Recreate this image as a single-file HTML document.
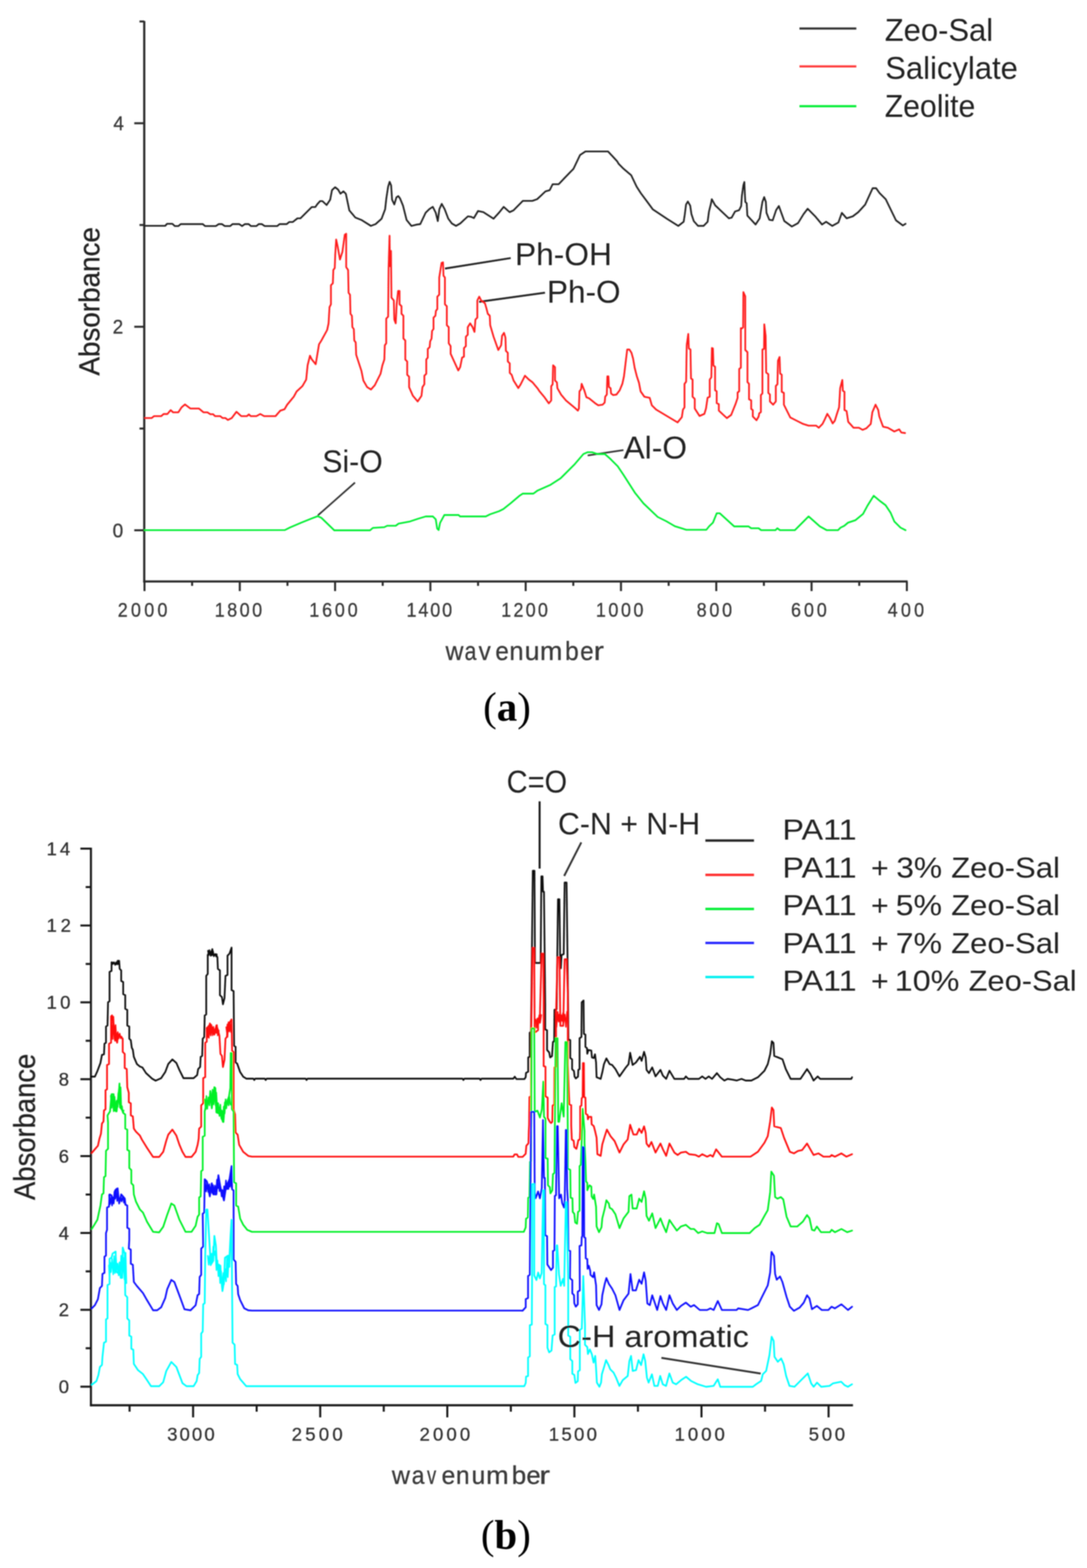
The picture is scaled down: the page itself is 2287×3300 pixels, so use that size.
<!DOCTYPE html>
<html><head><meta charset="utf-8"><title>FTIR spectra</title>
<style>html,body{margin:0;padding:0;background:#fff;}body{width:2287px;height:3300px;overflow:hidden;}svg{display:block;}</style>
</head><body>
<svg width="2287" height="3300" viewBox="0 0 2287 3300">
<defs><filter id="soft" x="0" y="0" width="2287" height="3300" filterUnits="userSpaceOnUse"><feGaussianBlur stdDeviation="1.00"/></filter></defs>
<rect width="2287" height="3300" fill="#fff"/>
<g filter="url(#soft)">
<line x1="303.5" y1="44.2" x2="303.5" y2="1225.7" stroke="#2b2b2b" stroke-width="4.60" stroke-linecap="butt"/>
<line x1="301.2" y1="1223.7" x2="1909.5" y2="1223.7" stroke="#2b2b2b" stroke-width="4.60" stroke-linecap="butt"/>
<line x1="282.5" y1="1116.0" x2="303.5" y2="1116.0" stroke="#2b2b2b" stroke-width="4.20" stroke-linecap="butt"/>
<line x1="293.5" y1="901.9" x2="303.5" y2="901.9" stroke="#2b2b2b" stroke-width="4.20" stroke-linecap="butt"/>
<line x1="282.5" y1="687.7" x2="303.5" y2="687.7" stroke="#2b2b2b" stroke-width="4.20" stroke-linecap="butt"/>
<line x1="293.5" y1="473.5" x2="303.5" y2="473.5" stroke="#2b2b2b" stroke-width="4.20" stroke-linecap="butt"/>
<line x1="282.5" y1="259.4" x2="303.5" y2="259.4" stroke="#2b2b2b" stroke-width="4.20" stroke-linecap="butt"/>
<line x1="293.5" y1="45.2" x2="303.5" y2="45.2" stroke="#2b2b2b" stroke-width="4.20" stroke-linecap="butt"/>
<line x1="1908.0" y1="1223.7" x2="1908.0" y2="1244.0" stroke="#2b2b2b" stroke-width="4.20" stroke-linecap="butt"/>
<line x1="1807.8" y1="1223.7" x2="1807.8" y2="1233.0" stroke="#2b2b2b" stroke-width="4.20" stroke-linecap="butt"/>
<line x1="1707.5" y1="1223.7" x2="1707.5" y2="1244.0" stroke="#2b2b2b" stroke-width="4.20" stroke-linecap="butt"/>
<line x1="1607.2" y1="1223.7" x2="1607.2" y2="1233.0" stroke="#2b2b2b" stroke-width="4.20" stroke-linecap="butt"/>
<line x1="1507.0" y1="1223.7" x2="1507.0" y2="1244.0" stroke="#2b2b2b" stroke-width="4.20" stroke-linecap="butt"/>
<line x1="1406.8" y1="1223.7" x2="1406.8" y2="1233.0" stroke="#2b2b2b" stroke-width="4.20" stroke-linecap="butt"/>
<line x1="1306.5" y1="1223.7" x2="1306.5" y2="1244.0" stroke="#2b2b2b" stroke-width="4.20" stroke-linecap="butt"/>
<line x1="1206.2" y1="1223.7" x2="1206.2" y2="1233.0" stroke="#2b2b2b" stroke-width="4.20" stroke-linecap="butt"/>
<line x1="1106.0" y1="1223.7" x2="1106.0" y2="1244.0" stroke="#2b2b2b" stroke-width="4.20" stroke-linecap="butt"/>
<line x1="1005.8" y1="1223.7" x2="1005.8" y2="1233.0" stroke="#2b2b2b" stroke-width="4.20" stroke-linecap="butt"/>
<line x1="905.5" y1="1223.7" x2="905.5" y2="1244.0" stroke="#2b2b2b" stroke-width="4.20" stroke-linecap="butt"/>
<line x1="805.2" y1="1223.7" x2="805.2" y2="1233.0" stroke="#2b2b2b" stroke-width="4.20" stroke-linecap="butt"/>
<line x1="705.0" y1="1223.7" x2="705.0" y2="1244.0" stroke="#2b2b2b" stroke-width="4.20" stroke-linecap="butt"/>
<line x1="604.8" y1="1223.7" x2="604.8" y2="1233.0" stroke="#2b2b2b" stroke-width="4.20" stroke-linecap="butt"/>
<line x1="504.5" y1="1223.7" x2="504.5" y2="1244.0" stroke="#2b2b2b" stroke-width="4.20" stroke-linecap="butt"/>
<line x1="404.2" y1="1223.7" x2="404.2" y2="1233.0" stroke="#2b2b2b" stroke-width="4.20" stroke-linecap="butt"/>
<line x1="304.0" y1="1223.7" x2="304.0" y2="1244.0" stroke="#2b2b2b" stroke-width="4.20" stroke-linecap="butt"/>
<line x1="1682.0" y1="59.9" x2="1801.7" y2="59.9" stroke="#333" stroke-width="4.50" stroke-linecap="butt"/>
<line x1="1682.0" y1="139.7" x2="1801.7" y2="139.7" stroke="#ff3b3b" stroke-width="4.50" stroke-linecap="butt"/>
<line x1="1682.0" y1="223.5" x2="1801.7" y2="223.5" stroke="#00ee33" stroke-width="4.50" stroke-linecap="butt"/>
<line x1="936.1" y1="565.2" x2="1074.5" y2="543.1" stroke="#222" stroke-width="4.00" stroke-linecap="butt"/>
<line x1="1008.0" y1="635.3" x2="1146.6" y2="615.9" stroke="#222" stroke-width="4.00" stroke-linecap="butt"/>
<line x1="668.7" y1="1084.8" x2="746.9" y2="1015.6" stroke="#333" stroke-width="3.50" stroke-linecap="butt"/>
<line x1="1236.5" y1="958.6" x2="1311.7" y2="947.2" stroke="#333" stroke-width="3.50" stroke-linecap="butt"/>
<text x="1016.6" y="1516.8" font-family="'Liberation Serif', 'Times New Roman', serif" font-size="86" fill="#000">(<tspan font-weight="bold">a</tspan>)</text>
<polyline points="304.0,475.3 347.6,475.3 351.4,471.0 362.7,471.0 367.7,475.8 375.2,475.8 380.2,471.6 426.6,471.6 431.6,475.8 454.1,475.8 460.4,471.6 466.7,471.6 472.9,475.8 484.2,475.8 489.2,471.6 503.0,471.6 509.3,475.8 515.5,471.6 523.1,471.6 528.1,475.8 539.3,475.8 544.4,471.6 550.6,471.6 556.9,475.8 583.2,475.8 588.2,471.6 603.3,471.6 608.3,467.3 615.8,467.3 625.8,459.5 632.1,459.5 655.9,435.7 663.4,435.7 667.2,430.2 673.4,423.2 678.4,423.2 687.2,431.5 694.7,420.2 698.5,400.1 705.0,394.0 711.3,399.0 716.3,407.7 722.6,402.7 727.6,407.7 735.0,442.8 747.7,457.8 760.2,462.8 780.3,475.4 790.3,471.6 802.8,460.3 810.3,440.3 812.8,417.7 816.6,392.7 819.8,382.6 822.9,390.2 824.9,420.2 829.6,430.3 834.1,415.2 837.9,412.7 841.7,417.7 847.9,432.8 855.4,462.8 865.5,475.4 875.5,472.9 884.3,471.6 895.5,447.8 903.1,440.3 910.6,435.3 916.8,447.8 921.1,465.3 924.4,440.3 929.4,429.0 935.6,440.3 943.2,460.3 950.7,470.4 959.4,475.4 968.2,470.4 984.5,455.3 992.0,456.6 997.0,459.0 1005.8,444.0 1017.0,446.5 1038.4,460.3 1049.7,447.8 1059.7,435.3 1072.2,446.5 1080.0,442.9 1100.0,422.8 1120.1,422.8 1130.2,419.1 1147.7,402.8 1156.5,400.3 1162.7,387.7 1175.3,387.7 1206.6,355.2 1220.4,326.3 1231.7,318.8 1279.3,318.8 1298.1,338.9 1301.8,345.1 1311.9,355.2 1328.1,368.9 1339.4,392.8 1348.2,406.5 1359.5,421.6 1373.3,440.4 1388.3,450.4 1403.3,460.4 1427.1,475.5 1438.4,466.7 1440.9,450.4 1443.4,430.4 1447.2,424.1 1452.2,432.9 1454.7,450.4 1459.7,465.4 1468.6,475.4 1480.2,475.4 1488.8,466.7 1491.7,445.1 1496.0,427.8 1497.5,419.2 1504.7,432.1 1533.5,459.5 1539.3,458.1 1546.5,445.1 1555.1,442.2 1559.4,433.6 1560.9,412.0 1564.0,390.0 1566.1,383.1 1567.0,405.0 1568.1,424.9 1571.0,427.8 1572.4,453.7 1589.7,472.5 1598.3,459.5 1604.1,424.9 1607.8,414.8 1611.3,424.9 1612.7,448.0 1618.5,462.4 1625.7,463.8 1632.9,442.2 1638.7,433.6 1644.4,449.4 1650.2,465.3 1666.0,476.8 1679.0,469.6 1690.5,450.9 1699.2,439.3 1715.0,455.2 1729.5,472.5 1738.1,466.7 1751.1,475.4 1764.0,468.2 1771.2,448.0 1781.3,459.5 1794.3,455.2 1805.8,446.5 1820.2,430.7 1836.1,396.1 1843.3,396.1 1850.5,406.2 1863.5,419.2 1885.1,463.8 1899.5,474.5 1905.2,471.0" fill="none" stroke="#222" stroke-width="3.60" stroke-linejoin="round" stroke-linecap="round"/>
<polyline points="305.0,879.8 319.0,879.8 324.0,875.8 339.1,875.8 344.1,871.4 352.1,871.4 359.1,863.2 364.2,867.8 375.2,867.8 382.2,857.1 389.2,851.1 400.3,859.7 418.3,859.7 428.3,867.8 436.3,867.8 442.4,871.8 448.4,871.8 452.4,875.8 463.4,875.8 468.4,879.8 474.4,879.8 479.4,883.8 487.5,879.8 497.5,866.6 507.5,875.8 519.5,875.8 523.6,872.2 527.6,875.8 539.6,875.8 547.6,871.2 555.6,875.8 579.7,875.8 589.7,864.2 598.7,861.2 604.0,852.0 618.1,834.9 624.1,823.9 636.1,812.8 644.2,798.8 647.2,768.7 652.2,748.7 656.2,756.7 664.2,766.7 668.2,742.7 671.2,724.6 676.2,716.6 688.3,694.5 691.3,680.5 693.3,646.4 696.3,640.4 696.3,600.3 700.3,596.3 701.3,568.2 704.3,564.2 705.3,536.1 707.3,504.1 710.3,518.1 715.3,546.2 720.4,530.1 725.4,494.0 728.4,492.0 728.4,562.2 732.4,568.2 733.4,616.3 736.4,620.4 737.4,660.5 740.4,664.5 741.4,688.5 744.4,692.5 745.4,716.6 748.4,720.6 749.4,746.7 760.5,780.8 764.5,800.8 772.5,814.8 780.5,819.8 788.5,810.8 800.6,786.8 804.6,768.7 808.6,756.7 809.6,726.6 812.6,722.6 812.6,670.5 816.6,666.5 817.6,564.2 819.6,496.0 820.6,560.2 822.6,528.1 823.6,626.4 828.6,632.4 829.6,672.5 832.6,680.5 834.6,640.4 837.6,612.3 840.6,612.3 840.6,640.4 844.7,644.4 844.7,660.5 848.7,664.5 848.7,712.6 852.7,716.6 852.7,756.7 856.7,760.7 856.7,788.8 860.7,792.8 860.7,814.8 868.7,832.9 878.7,844.9 886.8,832.9 888.8,814.8 892.8,808.8 892.8,790.8 896.8,786.8 896.8,756.7 900.0,752.6 900.0,734.6 904.0,730.6 905.0,718.5 908.0,712.5 909.0,696.5 912.1,692.5 912.1,668.4 916.1,664.4 917.1,654.4 920.1,650.4 920.1,624.3 924.1,620.3 924.1,584.2 929.1,553.1 932.1,552.1 933.1,580.2 936.1,584.2 936.1,640.4 940.1,644.4 940.1,684.5 944.1,688.5 944.1,722.6 948.1,728.6 948.1,744.6 964.2,779.7 968.2,772.7 972.2,752.6 976.2,750.6 976.2,732.6 980.2,728.6 980.2,708.5 984.2,704.5 984.2,688.5 989.2,680.5 994.3,688.5 998.3,698.5 1000.3,672.4 1004.3,668.4 1004.3,632.3 1008.3,624.3 1012.3,632.3 1020.3,638.3 1023.3,648.4 1026.3,660.4 1030.4,664.4 1031.4,684.5 1038.4,708.5 1048.4,736.6 1054.4,726.6 1056.4,706.5 1060.4,700.5 1063.4,710.5 1064.4,738.6 1068.4,742.6 1068.4,760.7 1072.5,764.7 1072.5,784.7 1076.5,788.7 1080.5,800.8 1090.5,816.8 1095.5,808.8 1104.5,790.7 1112.6,798.8 1120.6,804.8 1130.6,816.8 1134.6,822.8 1144.6,834.8 1154.7,848.9 1159.7,842.9 1159.7,812.8 1162.7,808.8 1163.7,768.7 1167.7,772.7 1167.7,800.8 1171.7,804.8 1172.7,816.8 1180.7,830.8 1190.8,842.9 1202.8,852.9 1210.0,858.9 1215.8,864.2 1218.0,859.7 1219.2,823.6 1222.6,819.1 1223.7,807.8 1229.3,821.4 1233.8,836.0 1239.5,838.3 1251.9,848.4 1258.7,853.0 1267.7,851.8 1272.2,847.3 1273.3,834.9 1276.7,830.4 1277.8,792.0 1280.1,792.0 1281.2,814.6 1284.6,816.9 1285.7,828.1 1290.2,831.5 1297.0,830.4 1303.8,821.4 1309.4,807.8 1312.8,792.0 1315.0,774.0 1317.3,754.8 1319.6,735.6 1324.1,735.6 1328.6,742.4 1332.0,754.8 1335.3,774.0 1339.9,792.0 1344.4,805.6 1347.8,823.6 1355.7,834.9 1366.9,837.2 1371.4,853.0 1380.5,862.0 1403.0,875.5 1425.6,889.0 1434.6,877.8 1436.9,862.0 1440.2,857.5 1440.2,807.8 1443.6,803.3 1444.8,726.6 1448.1,702.9 1449.3,733.4 1452.7,735.6 1453.8,796.6 1457.2,798.8 1457.2,834.9 1461.7,839.4 1461.7,859.7 1471.8,875.5 1482.0,871.0 1485.4,859.7 1488.7,837.2 1493.3,834.9 1493.3,798.8 1496.6,794.3 1497.8,732.3 1500.0,733.4 1501.1,769.5 1504.5,771.7 1504.5,821.4 1507.9,823.6 1507.9,848.4 1512.4,850.7 1512.4,864.2 1529.3,880.0 1538.3,873.3 1547.4,850.7 1551.9,837.2 1551.9,825.9 1555.3,823.6 1555.3,776.3 1558.7,774.0 1558.7,690.5 1560.2,691.5 1563.5,689.3 1564.0,614.8 1568.0,623.8 1568.0,736.6 1572.6,741.1 1572.6,804.3 1575.9,807.7 1575.9,840.4 1580.5,842.6 1580.5,860.7 1583.8,863.0 1583.8,876.5 1591.7,884.4 1596.2,876.5 1597.4,869.7 1600.8,867.5 1600.8,831.4 1604.1,828.0 1604.1,735.5 1607.5,734.4 1608.0,682.5 1610.9,707.3 1612.0,784.0 1616.5,787.4 1616.5,826.9 1619.9,830.2 1619.9,844.9 1626.7,851.7 1632.3,844.9 1632.3,812.2 1635.7,808.8 1636.8,759.2 1640.2,751.3 1641.4,786.3 1644.7,788.5 1644.7,824.6 1649.3,826.9 1649.3,851.7 1662.8,878.7 1676.3,885.5 1689.9,892.3 1701.1,895.7 1716.9,895.7 1722.6,900.2 1730.5,892.3 1735.0,883.3 1740.6,870.9 1746.3,879.9 1751.9,891.1 1756.4,885.5 1760.9,870.9 1765.4,857.3 1767.7,816.7 1772.2,799.8 1773.3,822.3 1776.7,824.6 1776.7,863.0 1781.2,865.2 1784.6,887.8 1795.9,900.2 1807.2,900.2 1815.0,904.7 1822.9,901.3 1832.0,892.3 1835.4,867.5 1842.1,851.7 1847.8,863.0 1850.0,876.5 1857.9,897.9 1868.1,900.2 1881.6,908.1 1891.8,903.6 1896.3,910.3 1904.2,911.4" fill="none" stroke="#ff1a1a" stroke-width="3.60" stroke-linejoin="round" stroke-linecap="round"/>
<polyline points="304.0,1115.8 599.5,1115.5 610.1,1110.1 634.1,1099.8 655.2,1091.4 668.7,1086.3 676.2,1089.9 703.3,1116.1 778.5,1116.1 784.5,1111.0 808.6,1109.5 814.6,1106.5 832.6,1106.5 838.6,1102.0 862.7,1097.4 880.8,1091.4 895.8,1086.9 910.8,1086.9 916.8,1092.9 919.8,1112.5 922.9,1115.5 925.9,1100.5 934.9,1083.9 965.0,1083.9 968.0,1086.9 1022.1,1086.9 1031.1,1082.4 1050.0,1075.9 1059.0,1071.4 1074.1,1059.4 1093.6,1042.9 1099.6,1038.9 1122.2,1038.9 1131.2,1032.3 1158.3,1020.3 1179.3,1006.8 1209.4,976.7 1227.4,955.6 1236.5,951.7 1245.5,951.7 1257.5,955.6 1272.6,955.6 1284.6,966.2 1299.6,981.2 1311.7,999.2 1335.7,1036.8 1353.8,1059.4 1383.8,1088.0 1401.9,1097.0 1419.9,1107.5 1444.0,1115.0 1486.1,1115.0 1492.1,1107.5 1500.0,1100.0 1507.9,1080.3 1514.5,1080.3 1544.7,1107.9 1575.0,1107.9 1580.3,1111.8 1596.1,1111.8 1601.3,1115.8 1631.6,1115.8 1635.5,1111.8 1640.8,1115.8 1672.4,1115.8 1701.3,1086.8 1725.0,1107.9 1739.5,1115.8 1763.2,1115.8 1768.4,1110.5 1776.3,1106.6 1784.2,1100.0 1800.0,1094.7 1815.8,1081.6 1825.0,1064.5 1838.2,1043.4 1852.6,1055.3 1863.2,1063.2 1873.7,1078.9 1881.6,1097.4 1894.7,1110.5 1905.3,1115.8" fill="none" stroke="#00ee33" stroke-width="3.60" stroke-linejoin="round" stroke-linecap="round"/>
<line x1="191.3" y1="1784.0" x2="191.3" y2="2959.5" stroke="#151515" stroke-width="4.30" stroke-linecap="butt"/>
<line x1="189.3" y1="2957.5" x2="1794.6" y2="2957.5" stroke="#151515" stroke-width="4.30" stroke-linecap="butt"/>
<line x1="169.2" y1="2918.4" x2="191.3" y2="2918.4" stroke="#151515" stroke-width="4.20" stroke-linecap="butt"/>
<line x1="180.3" y1="2837.5" x2="191.3" y2="2837.5" stroke="#151515" stroke-width="4.20" stroke-linecap="butt"/>
<line x1="169.2" y1="2756.6" x2="191.3" y2="2756.6" stroke="#151515" stroke-width="4.20" stroke-linecap="butt"/>
<line x1="180.3" y1="2675.7" x2="191.3" y2="2675.7" stroke="#151515" stroke-width="4.20" stroke-linecap="butt"/>
<line x1="169.2" y1="2594.9" x2="191.3" y2="2594.9" stroke="#151515" stroke-width="4.20" stroke-linecap="butt"/>
<line x1="180.3" y1="2514.0" x2="191.3" y2="2514.0" stroke="#151515" stroke-width="4.20" stroke-linecap="butt"/>
<line x1="169.2" y1="2433.1" x2="191.3" y2="2433.1" stroke="#151515" stroke-width="4.20" stroke-linecap="butt"/>
<line x1="180.3" y1="2352.2" x2="191.3" y2="2352.2" stroke="#151515" stroke-width="4.20" stroke-linecap="butt"/>
<line x1="169.2" y1="2271.3" x2="191.3" y2="2271.3" stroke="#151515" stroke-width="4.20" stroke-linecap="butt"/>
<line x1="180.3" y1="2190.4" x2="191.3" y2="2190.4" stroke="#151515" stroke-width="4.20" stroke-linecap="butt"/>
<line x1="169.2" y1="2109.5" x2="191.3" y2="2109.5" stroke="#151515" stroke-width="4.20" stroke-linecap="butt"/>
<line x1="180.3" y1="2028.7" x2="191.3" y2="2028.7" stroke="#151515" stroke-width="4.20" stroke-linecap="butt"/>
<line x1="169.2" y1="1947.8" x2="191.3" y2="1947.8" stroke="#151515" stroke-width="4.20" stroke-linecap="butt"/>
<line x1="180.3" y1="1866.9" x2="191.3" y2="1866.9" stroke="#151515" stroke-width="4.20" stroke-linecap="butt"/>
<line x1="169.2" y1="1786.0" x2="191.3" y2="1786.0" stroke="#151515" stroke-width="4.20" stroke-linecap="butt"/>
<line x1="1743.3" y1="2957.5" x2="1743.3" y2="2983.0" stroke="#151515" stroke-width="4.20" stroke-linecap="butt"/>
<line x1="1609.6" y1="2957.5" x2="1609.6" y2="2971.0" stroke="#151515" stroke-width="4.20" stroke-linecap="butt"/>
<line x1="1475.9" y1="2957.5" x2="1475.9" y2="2983.0" stroke="#151515" stroke-width="4.20" stroke-linecap="butt"/>
<line x1="1342.2" y1="2957.5" x2="1342.2" y2="2971.0" stroke="#151515" stroke-width="4.20" stroke-linecap="butt"/>
<line x1="1208.5" y1="2957.5" x2="1208.5" y2="2983.0" stroke="#151515" stroke-width="4.20" stroke-linecap="butt"/>
<line x1="1074.8" y1="2957.5" x2="1074.8" y2="2971.0" stroke="#151515" stroke-width="4.20" stroke-linecap="butt"/>
<line x1="941.1" y1="2957.5" x2="941.1" y2="2983.0" stroke="#151515" stroke-width="4.20" stroke-linecap="butt"/>
<line x1="807.4" y1="2957.5" x2="807.4" y2="2971.0" stroke="#151515" stroke-width="4.20" stroke-linecap="butt"/>
<line x1="673.7" y1="2957.5" x2="673.7" y2="2983.0" stroke="#151515" stroke-width="4.20" stroke-linecap="butt"/>
<line x1="540.0" y1="2957.5" x2="540.0" y2="2971.0" stroke="#151515" stroke-width="4.20" stroke-linecap="butt"/>
<line x1="406.3" y1="2957.5" x2="406.3" y2="2983.0" stroke="#151515" stroke-width="4.20" stroke-linecap="butt"/>
<line x1="272.6" y1="2957.5" x2="272.6" y2="2971.0" stroke="#151515" stroke-width="4.20" stroke-linecap="butt"/>
<line x1="1484.1" y1="1768.9" x2="1586.4" y2="1768.9" stroke="#222" stroke-width="5.00" stroke-linecap="butt"/>
<line x1="1484.1" y1="1841.2" x2="1586.4" y2="1841.2" stroke="#ff2a2a" stroke-width="5.00" stroke-linecap="butt"/>
<line x1="1484.1" y1="1913.1" x2="1586.4" y2="1913.1" stroke="#00ee33" stroke-width="5.00" stroke-linecap="butt"/>
<line x1="1484.1" y1="1984.4" x2="1586.4" y2="1984.4" stroke="#2a2aff" stroke-width="5.00" stroke-linecap="butt"/>
<line x1="1484.1" y1="2056.3" x2="1586.4" y2="2056.3" stroke="#00f0f0" stroke-width="5.00" stroke-linecap="butt"/>
<line x1="1135.3" y1="1686.5" x2="1135.3" y2="1828.0" stroke="#111" stroke-width="4.00" stroke-linecap="butt"/>
<line x1="1223.0" y1="1772.9" x2="1187.0" y2="1843.5" stroke="#333" stroke-width="4.00" stroke-linecap="butt"/>
<line x1="1391.6" y1="2857.8" x2="1600.4" y2="2890.8" stroke="#333" stroke-width="4.00" stroke-linecap="butt"/>
<text x="1011.7" y="3259.2" font-family="'Liberation Serif', 'Times New Roman', serif" font-size="86" fill="#000">(<tspan font-weight="bold">b</tspan>)</text>
<polyline points="192.1,2265.9 199.6,2265.9 204.9,2254.2 211.3,2237.1 214.5,2220.1 218.8,2219.0 219.8,2196.6 223.0,2194.5 223.0,2160.4 226.2,2158.3 227.3,2109.3 230.5,2107.2 230.5,2045.4 234.7,2043.3 234.7,2025.2 240.1,2027.3 246.5,2029.4 247.5,2022.0 250.7,2022.0 251.8,2039.0 255.0,2042.2 255.0,2064.6 259.2,2066.7 259.2,2092.3 263.5,2094.4 263.5,2123.1 267.8,2125.3 267.8,2158.3 272.0,2160.4 272.0,2186.0 275.2,2189.2 277.3,2205.2 279.5,2209.4 281.6,2224.3 288.0,2239.3 294.4,2244.6 299.7,2246.7 307.2,2258.4 320.0,2270.1 327.4,2274.4 339.1,2269.1 347.6,2256.3 354.0,2239.3 362.6,2229.7 371.1,2237.1 377.5,2252.0 386.0,2269.1 407.3,2269.1 414.8,2262.7 416.9,2249.9 421.1,2245.6 422.2,2224.3 425.4,2222.2 426.5,2186.0 429.7,2182.8 430.7,2137.0 433.9,2134.9 433.9,2053.9 437.1,2049.7 437.1,2009.2 441.4,2006.0 443.5,2011.3 446.7,1997.5 448.8,2009.2 454.2,2008.1 457.4,2014.5 458.4,2039.0 462.7,2042.2 462.7,2094.4 466.9,2098.6 469.1,2113.6 472.3,2100.8 474.4,2053.9 478.7,2051.8 478.7,2011.3 482.9,2007.0 487.2,1994.3 487.2,2083.7 491.5,2085.9 492.5,2200.9 495.7,2203.0 495.7,2236.1 498.9,2238.2 505.3,2256.3 511.7,2265.9 518.1,2270.1 533.0,2270.1 535.0,2273.0 537.0,2270.1 557.0,2270.1 559.0,2273.0 561.0,2270.1 643.0,2270.1 645.0,2273.0 647.0,2270.1 973.0,2270.1 975.0,2273.0 977.0,2270.1 1009.0,2270.1 1011.0,2273.0 1013.0,2270.1 1080.0,2270.1 1083.0,2266.0 1086.5,2271.0 1103.4,2271.0 1106.0,2267.1 1106.7,2258.0 1111.3,2255.4 1111.3,2225.5 1114.5,2224.1 1114.5,2173.4 1117.1,2172.0 1118.4,2065.7 1121.0,1832.6 1124.5,1832.6 1125.5,2026.6 1137.5,2026.6 1139.0,1844.3 1141.5,1844.3 1142.5,1876.8 1144.5,1876.8 1147.1,2114.7 1147.1,2166.8 1151.0,2168.1 1151.0,2209.8 1155.5,2215.0 1157.5,2225.5 1161.4,2222.8 1163.4,2192.9 1166.0,2191.6 1166.6,2125.2 1171.2,2123.9 1174.0,1892.5 1177.0,1892.5 1178.5,2012.0 1180.0,2038.0 1181.5,2010.0 1186.0,2008.0 1188.0,1857.3 1192.0,1857.3 1195.3,2113.4 1195.9,2187.7 1199.8,2189.0 1199.8,2226.8 1203.7,2229.4 1203.7,2250.2 1207.6,2254.1 1208.9,2265.8 1211.5,2269.7 1216.1,2265.8 1216.8,2251.5 1219.4,2250.2 1219.4,2185.1 1223.3,2182.5 1223.9,2109.5 1227.8,2105.6 1228.5,2176.0 1231.7,2177.3 1231.7,2203.3 1235.0,2205.9 1235.6,2217.6 1238.2,2209.8 1244.1,2211.1 1245.4,2225.5 1249.3,2226.8 1251.9,2218.9 1254.1,2236.1 1255.2,2267.2 1263.8,2270.6 1267.2,2256.8 1270.7,2239.6 1275.8,2227.5 1282.7,2239.6 1287.9,2241.3 1294.8,2249.9 1303.4,2265.4 1315.5,2248.2 1322.4,2239.6 1325.8,2215.5 1331.0,2241.3 1337.9,2236.1 1346.5,2224.1 1349.9,2232.7 1355.1,2213.7 1358.5,2225.8 1360.3,2251.7 1365.4,2258.5 1372.3,2246.5 1379.2,2265.4 1389.6,2251.7 1394.7,2263.7 1401.6,2270.6 1408.5,2253.4 1418.8,2270.6 1439.5,2270.6 1443.0,2265.4 1448.1,2270.6 1470.5,2270.6 1477.4,2265.4 1484.3,2270.6 1491.2,2265.4 1498.1,2270.6 1508.4,2258.5 1515.3,2267.2 1524.0,2274.1 1530.8,2270.6 1541.2,2272.3 1549.8,2274.1 1560.1,2270.6 1568.7,2274.1 1580.8,2274.1 1594.6,2267.2 1608.4,2253.4 1615.3,2239.6 1620.4,2218.9 1623.9,2191.4 1627.3,2194.8 1629.0,2222.4 1637.7,2225.8 1646.3,2229.3 1653.2,2249.9 1663.5,2270.6 1684.2,2270.6 1698.0,2249.9 1704.9,2260.3 1711.8,2274.1 1720.4,2265.4 1725.5,2270.6 1791.0,2270.6 1792.7,2267.2" fill="none" stroke="#111" stroke-width="3.60" stroke-linejoin="round" stroke-linecap="round"/>
<polyline points="437.5,2000.8 439.0,2010.5 440.6,1999.4 442.5,2008.3 444.9,2001.2 446.5,2010.4 448.3,2002.3 449.8,2012.7 452.3,2008.1 454.7,2013.1 456.3,2008.5" fill="none" stroke="#111" stroke-width="3.00" stroke-linejoin="round" stroke-linecap="round"/>
<polyline points="235.0,2025.3 237.3,2029.3 239.8,2025.1 242.3,2030.9 244.3,2025.1 246.5,2028.7 248.0,2023.5 249.7,2029.5" fill="none" stroke="#111" stroke-width="3.00" stroke-linejoin="round" stroke-linecap="round"/>
<polyline points="193.2,2426.3 198.5,2420.0 206.0,2411.4 209.2,2396.5 212.4,2385.9 214.5,2364.6 217.7,2360.3 218.8,2336.9 222.0,2334.7 222.0,2294.3 225.2,2292.5 225.2,2241.4 229.4,2239.3 229.4,2196.6 233.7,2194.5 233.7,2139.1 235.8,2137.0 237.9,2151.9 240.1,2160.4 242.2,2190.3 244.3,2175.3 246.5,2194.5 248.6,2177.5 253.9,2181.7 258.2,2186.0 258.2,2213.7 262.4,2218.0 262.4,2247.8 266.7,2249.9 267.8,2288.3 271.0,2300.0 271.0,2319.8 275.2,2322.0 275.2,2347.5 279.5,2349.7 281.6,2375.2 285.9,2381.6 294.4,2390.1 298.7,2398.6 309.3,2415.7 322.1,2434.9 334.9,2434.9 343.4,2424.2 349.8,2400.8 354.0,2388.0 362.6,2377.3 371.1,2390.1 377.5,2409.3 383.9,2424.2 390.3,2434.9 403.0,2434.9 411.6,2424.2 415.8,2409.3 418.0,2396.5 419.0,2375.2 423.3,2371.0 423.3,2326.2 427.5,2322.0 427.5,2269.1 431.8,2266.9 431.8,2194.5 435.0,2192.4 435.0,2164.7 442.4,2155.1 447.8,2166.8 451.0,2177.5 455.2,2158.3 458.4,2166.8 461.6,2179.6 463.8,2218.0 466.9,2222.2 469.1,2245.6 472.3,2230.7 474.4,2186.0 477.6,2181.7 478.7,2156.2 481.9,2154.0 487.2,2145.5 488.3,2211.6 491.5,2213.7 491.5,2334.7 494.6,2345.4 495.7,2383.7 500.0,2388.0 503.2,2409.3 511.7,2424.2 522.3,2432.7 530.0,2434.2 1080.0,2434.2 1082.7,2429.5 1087.8,2429.5 1090.4,2434.7 1099.5,2434.7 1106.0,2428.2 1107.4,2411.3 1111.9,2406.0 1112.6,2380.0 1113.2,2367.4 1113.9,2308.8 1117.1,2307.5 1117.8,2164.2 1120.5,1995.0 1124.0,1995.0 1124.9,2173.4 1132.1,2168.1 1132.1,2146.0 1136.0,2136.9 1139.5,2007.0 1143.0,2007.0 1143.8,2103.0 1143.8,2243.7 1147.7,2245.0 1147.7,2307.5 1152.3,2310.1 1152.3,2353.1 1156.8,2360.9 1159.4,2363.5 1162.1,2360.9 1162.7,2327.0 1166.0,2324.4 1166.6,2246.3 1169.9,2245.0 1169.9,2133.0 1173.0,2014.9 1177.0,2014.9 1179.0,2159.0 1185.0,2159.0 1188.0,2018.8 1192.0,2018.8 1194.6,2090.0 1194.6,2241.1 1197.9,2324.4 1201.8,2325.7 1201.8,2368.7 1203.1,2398.2 1207.0,2400.8 1208.3,2413.9 1212.8,2417.8 1215.5,2406.0 1216.8,2399.5 1220.0,2398.2 1220.7,2380.0 1220.7,2328.3 1223.3,2327.0 1223.9,2311.4 1225.9,2308.8 1226.5,2237.2 1228.5,2237.2 1229.1,2308.8 1231.7,2310.1 1232.4,2344.0 1236.3,2346.6 1236.9,2355.7 1238.9,2350.5 1244.1,2350.5 1244.8,2366.1 1249.3,2370.0 1251.9,2380.0 1255.2,2394.3 1256.9,2429.1 1263.8,2432.6 1267.2,2408.4 1272.4,2391.2 1276.9,2377.4 1284.5,2391.2 1293.1,2401.5 1303.4,2425.7 1312.0,2408.4 1320.6,2398.1 1325.8,2367.1 1332.7,2387.8 1339.6,2387.8 1344.8,2375.7 1349.9,2384.3 1355.1,2370.5 1358.5,2384.3 1360.3,2406.7 1365.4,2413.6 1370.6,2403.3 1379.2,2425.7 1389.6,2406.7 1394.7,2418.8 1401.6,2432.6 1408.5,2406.7 1418.8,2425.7 1425.7,2430.8 1432.6,2425.7 1443.0,2424.0 1449.9,2429.1 1463.6,2430.8 1470.5,2434.3 1477.4,2429.1 1487.8,2434.3 1494.7,2430.8 1499.8,2434.3 1506.7,2418.8 1518.8,2434.3 1579.1,2434.3 1594.6,2424.0 1608.4,2405.0 1615.3,2391.2 1620.4,2360.2 1623.9,2330.9 1627.3,2336.1 1629.0,2370.5 1642.8,2374.0 1649.7,2394.7 1661.8,2424.0 1670.4,2427.4 1679.0,2422.2 1687.6,2420.5 1698.0,2406.7 1704.9,2418.8 1711.8,2430.8 1722.1,2427.4 1732.4,2434.3 1746.2,2434.3 1749.7,2430.8 1756.6,2434.3 1770.3,2427.4 1780.7,2434.3 1792.7,2429.1" fill="none" stroke="#ff1010" stroke-width="3.60" stroke-linejoin="round" stroke-linecap="round"/>
<polyline points="234.5,2151.8 236.9,2186.9 238.6,2139.5 240.8,2187.1 243.1,2157.2 245.4,2192.5 247.8,2172.1 249.7,2185.7 251.9,2175.3 254.0,2185.4 255.7,2181.6 257.9,2187.6" fill="none" stroke="#ff1010" stroke-width="3.00" stroke-linejoin="round" stroke-linecap="round"/>
<polyline points="434.5,2163.1 436.1,2183.6 437.6,2161.9 439.4,2184.3 441.4,2153.6 443.3,2179.4 444.8,2156.9 447.2,2179.1 448.9,2160.9 451.4,2176.2 453.3,2163.9 454.8,2174.0 456.5,2157.2 458.1,2179.3 460.4,2168.9" fill="none" stroke="#ff1010" stroke-width="3.00" stroke-linejoin="round" stroke-linecap="round"/>
<polyline points="476.0,2161.7 478.6,2182.4 480.8,2151.2 482.5,2170.9 484.1,2153.6 486.1,2172.4" fill="none" stroke="#ff1010" stroke-width="3.00" stroke-linejoin="round" stroke-linecap="round"/>
<polyline points="1169.0,2133.1 1170.8,2161.4 1173.3,2129.5 1175.3,2150.3 1176.8,2134.9 1178.9,2153.8 1180.8,2136.2 1182.7,2148.9 1184.3,2132.6 1185.8,2152.8 1188.4,2135.1 1190.7,2161.2 1193.0,2129.3" fill="none" stroke="#ff1010" stroke-width="3.00" stroke-linejoin="round" stroke-linecap="round"/>
<polyline points="1127.0,2145.5 1128.9,2163.0 1130.6,2143.4 1133.0,2155.0 1134.5,2136.8 1136.3,2152.7 1138.9,2136.1" fill="none" stroke="#ff1010" stroke-width="3.00" stroke-linejoin="round" stroke-linecap="round"/>
<polyline points="193.2,2586.1 198.5,2577.6 204.9,2567.0 208.1,2552.0 211.3,2537.1 214.5,2513.7 217.7,2511.6 218.8,2477.5 222.0,2475.3 223.0,2422.1 227.3,2417.8 227.3,2362.4 226.2,2347.5 231.5,2339.0 234.7,2302.8 239.0,2302.8 241.1,2336.9 245.4,2339.0 247.5,2319.8 250.7,2290.0 251.4,2280.3 252.4,2330.5 256.0,2334.7 260.3,2343.3 263.5,2345.4 263.5,2375.2 267.8,2377.3 267.8,2420.0 272.0,2422.1 272.0,2458.3 276.3,2462.6 276.3,2490.3 280.5,2494.5 281.6,2513.7 285.9,2528.6 294.4,2545.6 300.8,2552.0 309.3,2571.2 322.1,2592.5 334.9,2593.6 343.4,2581.9 351.9,2556.3 360.4,2532.9 366.8,2537.1 377.5,2567.0 390.3,2592.5 403.0,2592.5 411.6,2579.7 415.8,2560.6 419.0,2556.3 419.0,2520.1 422.2,2518.0 423.3,2464.7 426.5,2462.6 426.5,2392.3 430.7,2390.1 430.7,2339.0 435.0,2319.8 440.3,2322.0 442.4,2296.0 445.6,2332.6 448.8,2309.2 451.0,2288.0 453.1,2290.0 455.2,2341.1 460.6,2343.3 462.7,2330.5 465.9,2353.9 470.1,2361.4 473.3,2319.8 477.6,2319.8 481.9,2307.0 484.5,2290.0 485.5,2216.0 487.5,2216.0 488.0,2334.7 491.5,2339.0 492.5,2488.1 496.8,2490.3 496.8,2537.1 501.1,2539.3 505.3,2564.8 511.7,2577.6 520.2,2588.3 530.0,2592.5 1102.1,2592.5 1106.0,2583.2 1106.7,2564.9 1110.6,2562.3 1111.3,2520.7 1113.9,2519.4 1115.2,2445.1 1117.1,2443.8 1118.5,2164.2 1124.0,2164.2 1125.0,2340.1 1130.8,2337.5 1136.0,2351.8 1140.0,2335.0 1143.2,2276.2 1144.5,2350.5 1147.7,2354.4 1147.7,2437.3 1152.3,2438.6 1152.9,2494.6 1156.8,2498.5 1158.1,2511.5 1162.1,2505.0 1163.4,2471.2 1166.6,2468.6 1167.3,2380.0 1169.0,2185.0 1173.0,2185.0 1174.5,2360.9 1176.4,2360.9 1181.6,2321.8 1186.0,2350.0 1189.5,2193.0 1193.0,2193.0 1194.6,2380.0 1194.6,2459.4 1199.8,2462.0 1200.5,2520.7 1204.4,2522.0 1205.0,2550.6 1208.3,2554.5 1210.2,2572.8 1214.1,2575.4 1216.1,2550.6 1219.4,2548.0 1219.4,2454.2 1222.0,2451.6 1222.6,2434.7 1224.6,2380.0 1225.9,2333.6 1229.8,2380.0 1229.8,2406.0 1231.7,2445.1 1233.0,2486.8 1235.6,2489.4 1235.6,2505.0 1240.2,2494.6 1244.1,2497.2 1244.8,2518.1 1248.0,2523.3 1250.0,2514.1 1254.1,2539.9 1255.2,2581.3 1260.3,2593.3 1265.5,2583.0 1267.2,2564.1 1272.4,2543.4 1275.8,2526.1 1281.0,2533.0 1282.7,2541.7 1287.9,2545.1 1294.8,2555.4 1303.4,2584.7 1312.0,2564.1 1322.4,2550.3 1324.1,2517.5 1328.6,2514.1 1331.0,2543.4 1339.6,2543.4 1344.8,2522.7 1349.9,2529.6 1355.1,2507.2 1358.5,2522.7 1360.3,2558.9 1365.4,2569.2 1372.3,2553.7 1379.2,2584.7 1389.6,2564.1 1394.7,2577.8 1401.6,2593.3 1408.5,2567.5 1415.4,2577.8 1424.0,2589.9 1432.6,2581.3 1443.0,2577.8 1453.3,2586.5 1460.2,2586.5 1468.8,2595.1 1477.4,2591.6 1487.8,2595.1 1503.3,2595.1 1508.4,2574.4 1511.9,2576.1 1518.8,2595.1 1577.4,2595.1 1587.7,2584.7 1598.0,2577.8 1608.4,2558.9 1615.3,2546.8 1620.4,2508.9 1622.8,2465.8 1628.4,2474.5 1630.8,2519.3 1635.9,2522.7 1642.8,2519.3 1648.0,2524.4 1654.9,2560.6 1663.5,2581.3 1677.3,2581.3 1689.3,2570.9 1698.0,2557.2 1703.1,2564.1 1708.3,2588.2 1713.5,2589.9 1718.6,2581.3 1727.3,2593.3 1746.2,2593.3 1749.7,2588.2 1756.6,2593.3 1770.3,2586.5 1782.4,2593.3 1792.7,2589.9" fill="none" stroke="#00f028" stroke-width="3.60" stroke-linejoin="round" stroke-linecap="round"/>
<polyline points="233.0,2306.1 235.1,2331.6 237.0,2306.5 239.1,2338.9 241.1,2308.1 243.5,2339.2 245.3,2316.4 247.6,2329.7 249.1,2299.9 251.6,2324.8 253.8,2288.3 255.2,2331.6 256.7,2328.0 258.4,2341.9 260.3,2337.0" fill="none" stroke="#00f028" stroke-width="3.00" stroke-linejoin="round" stroke-linecap="round"/>
<polyline points="430.5,2313.3 432.7,2334.7 434.3,2306.4 436.1,2333.8 438.5,2309.3 440.6,2326.5 442.8,2298.3 444.7,2327.0 447.2,2293.3 449.6,2324.5 451.8,2296.9 453.7,2326.9 455.1,2299.3 457.6,2340.1 459.1,2321.5 461.7,2348.7 463.6,2324.7 465.4,2351.1 466.9,2337.0 468.4,2361.0 470.8,2328.8 472.7,2343.5 474.7,2313.4 476.1,2332.9 478.7,2314.1 480.9,2326.6 482.7,2307.9 484.9,2325.1" fill="none" stroke="#00f028" stroke-width="3.00" stroke-linejoin="round" stroke-linecap="round"/>
<polyline points="193.2,2753.4 199.6,2747.0 206.0,2734.2 210.2,2710.8 214.5,2706.5 215.6,2681.0 219.8,2678.8 219.8,2644.7 223.0,2642.6 223.0,2595.0 225.2,2588.3 225.2,2541.4 229.4,2539.3 230.5,2513.7 234.7,2515.8 239.0,2532.9 242.2,2505.2 247.5,2500.9 250.7,2532.9 255.0,2513.7 262.4,2522.2 263.5,2535.0 267.8,2537.1 267.8,2584.0 272.0,2586.1 272.0,2609.6 271.0,2627.7 275.2,2629.8 275.2,2659.7 279.5,2661.8 281.6,2698.0 288.0,2706.5 300.8,2721.4 309.3,2736.3 322.1,2757.6 330.6,2757.6 339.1,2751.3 347.6,2732.1 351.9,2712.9 360.4,2693.7 366.8,2698.0 373.2,2715.0 379.6,2732.1 388.1,2755.5 400.9,2757.6 411.6,2747.0 415.8,2725.7 419.0,2723.6 420.1,2687.3 423.3,2683.1 423.3,2627.7 427.5,2623.4 426.5,2554.2 429.7,2552.0 430.7,2481.7 435.0,2486.0 441.4,2518.0 445.6,2490.3 448.8,2513.7 455.2,2513.7 459.5,2473.2 463.8,2498.8 471.2,2526.5 475.5,2498.8 482.9,2481.7 487.2,2454.0 488.3,2503.0 491.5,2505.2 491.5,2651.1 495.7,2655.4 496.8,2702.3 500.0,2706.5 501.1,2723.6 505.3,2736.3 513.8,2753.4 522.3,2757.6 530.0,2758.2 1095.8,2758.2 1099.5,2758.5 1106.1,2751.2 1106.1,2734.2 1111.0,2731.8 1111.0,2685.5 1114.7,2683.1 1115.3,2605.3 1117.5,2340.0 1124.0,2340.0 1125.0,2510.0 1126.9,2522.0 1132.1,2507.6 1136.0,2522.0 1139.9,2501.1 1142.5,2357.0 1144.5,2479.0 1146.4,2479.0 1147.1,2600.1 1151.0,2601.4 1151.6,2661.3 1156.8,2669.1 1159.4,2673.0 1163.4,2667.8 1163.4,2632.7 1166.6,2631.4 1167.3,2516.8 1169.9,2515.5 1171.8,2370.0 1173.5,2370.0 1176.4,2522.0 1180.3,2514.1 1182.9,2532.4 1186.8,2541.5 1188.1,2527.2 1190.5,2378.0 1192.0,2378.0 1193.3,2501.1 1194.6,2523.3 1195.9,2631.4 1199.8,2632.7 1199.2,2690.4 1204.1,2694.1 1204.1,2722.0 1207.7,2725.7 1208.3,2742.7 1211.4,2750.0 1215.6,2745.1 1215.6,2718.4 1219.9,2715.9 1219.4,2622.3 1223.3,2621.0 1223.9,2604.0 1225.2,2601.4 1225.9,2413.9 1228.5,2415.2 1229.1,2604.0 1231.7,2605.3 1232.4,2648.3 1235.6,2649.6 1236.3,2670.4 1238.9,2663.9 1241.8,2674.6 1242.4,2683.1 1247.8,2688.0 1250.0,2677.8 1254.1,2705.3 1255.2,2746.7 1260.3,2757.0 1265.5,2745.0 1267.2,2726.0 1272.4,2701.9 1275.8,2689.8 1281.0,2701.9 1287.9,2712.2 1294.8,2726.0 1303.4,2757.0 1312.0,2736.3 1322.4,2722.6 1326.5,2681.2 1331.0,2715.7 1337.9,2715.7 1344.8,2693.3 1349.9,2701.9 1355.1,2677.8 1358.5,2695.0 1362.0,2743.2 1367.2,2746.7 1372.3,2726.0 1382.7,2757.0 1389.6,2727.7 1394.7,2743.2 1401.6,2757.0 1408.5,2726.0 1415.4,2743.2 1424.0,2757.0 1432.6,2748.4 1443.0,2741.5 1453.3,2750.1 1460.2,2746.7 1472.3,2757.0 1487.8,2757.0 1494.7,2753.6 1501.6,2757.0 1510.2,2738.1 1518.8,2757.0 1549.8,2757.0 1553.2,2753.6 1573.9,2757.0 1580.8,2753.6 1594.6,2746.7 1604.9,2726.0 1615.3,2705.3 1620.4,2677.8 1623.2,2634.7 1628.4,2643.3 1630.8,2681.2 1634.2,2693.3 1641.1,2686.4 1646.3,2698.4 1654.9,2729.5 1661.8,2750.1 1670.4,2758.7 1682.5,2751.9 1691.1,2741.5 1698.0,2726.0 1703.1,2732.9 1708.3,2755.3 1718.6,2748.4 1729.0,2757.0 1742.8,2757.0 1749.7,2750.1 1756.6,2753.6 1770.3,2745.0 1784.1,2757.0 1792.7,2750.1" fill="none" stroke="#1010ff" stroke-width="3.60" stroke-linejoin="round" stroke-linecap="round"/>
<polyline points="229.5,2515.1 231.7,2534.4 234.1,2519.1 235.8,2537.3 237.5,2520.0 239.0,2529.6 240.7,2508.1 242.6,2522.9 244.7,2502.1 246.5,2527.7 248.9,2516.6 251.3,2529.1 253.6,2518.6 255.9,2528.7 258.4,2517.6 260.7,2531.2 262.6,2522.6 264.5,2536.2" fill="none" stroke="#1010ff" stroke-width="3.00" stroke-linejoin="round" stroke-linecap="round"/>
<polyline points="431.5,2483.0 433.7,2507.8 436.3,2488.7 438.0,2508.7 440.2,2492.3 442.4,2513.1 444.7,2492.1 446.4,2511.0 448.2,2494.0 450.6,2512.5 452.2,2495.1 454.4,2514.1 456.5,2482.7 458.3,2500.7 460.0,2489.5 461.9,2507.1 463.8,2497.7 466.3,2518.1 467.8,2504.4 469.9,2519.4 471.5,2496.6 473.5,2508.1 475.4,2484.3 477.8,2502.8 479.3,2489.7 480.8,2502.5 482.2,2484.7 483.8,2497.7 485.3,2475.9 487.5,2499.6" fill="none" stroke="#1010ff" stroke-width="3.00" stroke-linejoin="round" stroke-linecap="round"/>
<polyline points="193.2,2914.2 202.8,2906.8 207.0,2894.0 210.2,2876.9 214.5,2872.7 215.6,2855.6 218.8,2825.8 223.0,2823.7 223.0,2776.8 226.2,2774.7 226.2,2704.4 230.5,2702.3 230.5,2649.0 234.7,2646.9 236.9,2638.3 243.3,2634.1 244.3,2676.7 247.5,2678.8 249.7,2666.0 252.8,2670.3 253.9,2689.5 257.1,2689.5 258.2,2625.6 262.4,2638.3 263.5,2725.7 267.8,2730.0 267.8,2774.7 272.0,2779.0 272.0,2810.9 276.3,2813.0 276.3,2838.6 280.5,2840.7 281.6,2870.6 290.1,2883.3 300.8,2891.9 309.3,2904.6 317.8,2917.4 334.9,2917.4 343.4,2908.9 349.8,2885.5 360.4,2866.3 371.1,2877.0 377.5,2894.0 383.9,2911.0 392.4,2917.4 407.3,2917.4 413.7,2906.8 415.8,2894.0 419.0,2889.7 420.1,2859.9 423.3,2855.6 423.3,2806.6 426.5,2802.4 427.5,2744.9 430.7,2742.7 431.8,2642.6 434.0,2545.6 436.5,2545.6 443.5,2661.8 448.8,2653.3 451.0,2601.0 454.2,2621.3 456.3,2659.7 463.8,2663.9 464.8,2685.2 468.0,2717.2 471.2,2698.0 473.3,2646.9 479.7,2642.6 481.9,2661.8 485.1,2600.0 487.2,2567.0 488.0,2678.8 489.3,2825.8 493.6,2830.1 494.6,2870.6 499.0,2872.7 500.0,2891.9 505.3,2902.5 518.1,2917.4 1103.1,2917.4 1106.1,2910.5 1106.8,2897.2 1111.0,2896.0 1111.0,2857.0 1114.7,2854.6 1114.7,2788.9 1118.9,2787.7 1119.5,2684.3 1119.8,2492.0 1124.0,2492.0 1124.0,2684.3 1128.6,2694.1 1132.3,2678.2 1135.9,2690.4 1139.6,2679.5 1142.8,2505.0 1144.2,2505.0 1144.5,2702.6 1147.5,2705.0 1147.5,2786.5 1151.8,2788.9 1151.8,2836.4 1155.4,2846.1 1160.3,2842.4 1162.7,2810.8 1167.0,2808.4 1167.0,2708.6 1170.0,2707.4 1171.2,2621.0 1172.5,2621.0 1176.1,2681.9 1179.7,2706.2 1184.6,2691.6 1187.0,2706.2 1190.5,2530.0 1192.0,2530.0 1195.5,2696.5 1195.5,2810.8 1199.8,2813.2 1199.8,2860.7 1204.1,2864.3 1204.1,2891.1 1208.3,2893.5 1210.7,2910.5 1215.6,2906.9 1216.2,2886.2 1219.9,2883.8 1219.9,2798.7 1224.1,2796.2 1227.2,2685.5 1230.8,2788.9 1230.8,2830.3 1235.7,2835.1 1236.9,2849.7 1241.0,2840.0 1245.3,2850.2 1248.8,2867.7 1252.3,2853.7 1254.0,2878.2 1255.8,2909.8 1261.1,2918.6 1264.6,2909.8 1266.3,2892.3 1271.6,2874.7 1275.1,2862.5 1280.4,2873.0 1283.9,2881.8 1290.9,2888.8 1296.1,2899.3 1303.2,2916.8 1310.2,2904.6 1320.7,2895.8 1324.2,2864.2 1327.7,2853.7 1331.2,2885.3 1338.2,2883.5 1343.5,2862.5 1348.8,2873.0 1354.0,2850.2 1357.5,2864.2 1361.1,2899.3 1364.6,2909.8 1371.6,2892.3 1376.8,2916.8 1383.9,2916.8 1389.1,2895.8 1394.4,2913.3 1401.4,2916.8 1408.4,2890.5 1415.4,2909.8 1422.5,2913.3 1433.0,2904.6 1443.5,2897.5 1454.0,2906.3 1468.1,2913.3 1485.6,2918.6 1501.4,2916.8 1510.2,2902.8 1515.4,2918.6 1583.9,2918.6 1590.9,2913.3 1601.4,2906.3 1604.9,2892.3 1611.9,2885.3 1618.9,2851.9 1623.5,2813.3 1627.7,2822.1 1629.5,2855.4 1636.5,2866.0 1643.5,2858.9 1648.8,2871.2 1654.0,2895.8 1661.1,2916.8 1671.6,2918.6 1689.1,2901.0 1699.6,2890.5 1706.7,2911.6 1711.9,2918.6 1718.9,2909.8 1727.7,2918.6 1745.3,2916.8 1752.3,2911.6 1769.8,2908.1 1776.8,2915.1 1783.9,2918.6 1792.6,2913.3" fill="none" stroke="#00ffff" stroke-width="3.60" stroke-linejoin="round" stroke-linecap="round"/>
<polyline points="229.0,2663.1 230.4,2685.7 232.0,2657.4 233.4,2677.4 235.6,2648.9 238.2,2682.2 240.0,2643.4 241.8,2679.6 243.5,2645.3 245.9,2672.1 247.6,2659.2 249.6,2684.2 251.5,2656.6 253.0,2685.3 254.9,2642.4 257.4,2686.3 259.3,2646.7 261.9,2693.0 264.4,2636.4 266.0,2700.7" fill="none" stroke="#00ffff" stroke-width="3.00" stroke-linejoin="round" stroke-linecap="round"/>
<polyline points="437.0,2642.7 439.0,2661.9 440.9,2643.1 443.1,2663.1 445.3,2638.2 447.0,2655.6 448.6,2623.6 450.4,2641.8 452.9,2632.9 455.4,2673.2 457.6,2652.7 459.5,2686.0 461.3,2661.4 463.1,2700.5 465.4,2675.5 467.3,2710.0 469.9,2679.1 471.3,2703.0 473.7,2670.4 475.7,2697.0 477.3,2647.2 479.3,2688.1 481.5,2649.3 482.9,2666.4 484.9,2619.3" fill="none" stroke="#00ffff" stroke-width="3.00" stroke-linejoin="round" stroke-linecap="round"/>
<text x="-790.6" y="0.0" font-family="'Liberation Sans', Arial, sans-serif" font-size="61" fill="#222" stroke="#222" stroke-width="0.60" textLength="312.7" lengthAdjust="spacingAndGlyphs" transform="translate(208.5,0) rotate(-90)">Absorbance</text>
<text x="1861.6" y="85.8" font-family="'Liberation Sans', Arial, sans-serif" font-size="67" fill="#222" textLength="227.9" lengthAdjust="spacingAndGlyphs">Zeo-Sal</text>
<text x="1862.6" y="165.6" font-family="'Liberation Sans', Arial, sans-serif" font-size="67" fill="#222" textLength="279.0" lengthAdjust="spacingAndGlyphs">Salicylate</text>
<text x="1861.6" y="245.5" font-family="'Liberation Sans', Arial, sans-serif" font-size="67" fill="#222" textLength="190.4" lengthAdjust="spacingAndGlyphs">Zeolite</text>
<text x="1083.4" y="558.1" font-family="'Liberation Sans', Arial, sans-serif" font-size="66" fill="#222" textLength="204.1" lengthAdjust="spacingAndGlyphs">Ph-OH</text>
<text x="1150.7" y="637.3" font-family="'Liberation Sans', Arial, sans-serif" font-size="66" fill="#222" textLength="155.0" lengthAdjust="spacingAndGlyphs">Ph-O</text>
<text x="677.9" y="993.7" font-family="'Liberation Sans', Arial, sans-serif" font-size="66" fill="#222" textLength="127.6" lengthAdjust="spacingAndGlyphs">Si-O</text>
<text x="1311.7" y="964.7" font-family="'Liberation Sans', Arial, sans-serif" font-size="66" fill="#222" textLength="133.8" lengthAdjust="spacingAndGlyphs">Al-O</text>
<text x="-2525.4" y="0.0" font-family="'Liberation Sans', Arial, sans-serif" font-size="63" fill="#222" stroke="#222" stroke-width="0.60" textLength="307.8" lengthAdjust="spacingAndGlyphs" transform="translate(73.4,0) rotate(-90)">Absorbance</text>
<text x="1646.3" y="1766.8" font-family="'Liberation Sans', Arial, sans-serif" font-size="61" fill="#222" textLength="156.0" lengthAdjust="spacingAndGlyphs">PA11</text>
<text x="1646.3" y="1846.5" font-family="'Liberation Sans', Arial, sans-serif" font-size="61" fill="#222" textLength="156.0" lengthAdjust="spacingAndGlyphs">PA11</text>
<text x="1832.4" y="1846.5" font-family="'Liberation Sans', Arial, sans-serif" font-size="61" fill="#222" textLength="37.3" lengthAdjust="spacingAndGlyphs">+</text>
<text x="1885.7" y="1846.5" font-family="'Liberation Sans', Arial, sans-serif" font-size="61" fill="#222" textLength="96.4" lengthAdjust="spacingAndGlyphs">3%</text>
<text x="2001.2" y="1846.5" font-family="'Liberation Sans', Arial, sans-serif" font-size="61" fill="#222" textLength="228.9" lengthAdjust="spacingAndGlyphs">Zeo-Sal</text>
<text x="1646.3" y="1926.2" font-family="'Liberation Sans', Arial, sans-serif" font-size="61" fill="#222" textLength="156.0" lengthAdjust="spacingAndGlyphs">PA11</text>
<text x="1832.4" y="1926.2" font-family="'Liberation Sans', Arial, sans-serif" font-size="61" fill="#222" textLength="37.3" lengthAdjust="spacingAndGlyphs">+</text>
<text x="1884.6" y="1926.2" font-family="'Liberation Sans', Arial, sans-serif" font-size="61" fill="#222" textLength="97.5" lengthAdjust="spacingAndGlyphs">5%</text>
<text x="2001.2" y="1926.2" font-family="'Liberation Sans', Arial, sans-serif" font-size="61" fill="#222" textLength="228.9" lengthAdjust="spacingAndGlyphs">Zeo-Sal</text>
<text x="1646.3" y="2006.4" font-family="'Liberation Sans', Arial, sans-serif" font-size="61" fill="#222" textLength="156.0" lengthAdjust="spacingAndGlyphs">PA11</text>
<text x="1832.4" y="2006.4" font-family="'Liberation Sans', Arial, sans-serif" font-size="61" fill="#222" textLength="37.3" lengthAdjust="spacingAndGlyphs">+</text>
<text x="1884.6" y="2006.4" font-family="'Liberation Sans', Arial, sans-serif" font-size="61" fill="#222" textLength="97.5" lengthAdjust="spacingAndGlyphs">7%</text>
<text x="2001.2" y="2006.4" font-family="'Liberation Sans', Arial, sans-serif" font-size="61" fill="#222" textLength="228.9" lengthAdjust="spacingAndGlyphs">Zeo-Sal</text>
<text x="1646.3" y="2085.1" font-family="'Liberation Sans', Arial, sans-serif" font-size="61" fill="#222" textLength="156.0" lengthAdjust="spacingAndGlyphs">PA11</text>
<text x="1832.4" y="2085.1" font-family="'Liberation Sans', Arial, sans-serif" font-size="61" fill="#222" textLength="37.3" lengthAdjust="spacingAndGlyphs">+</text>
<text x="1882.3" y="2085.1" font-family="'Liberation Sans', Arial, sans-serif" font-size="61" fill="#222" textLength="136.4" lengthAdjust="spacingAndGlyphs">10%</text>
<text x="2037.9" y="2085.1" font-family="'Liberation Sans', Arial, sans-serif" font-size="61" fill="#222" textLength="227.3" lengthAdjust="spacingAndGlyphs">Zeo-Sal</text>
<text x="1066.1" y="1668.3" font-family="'Liberation Sans', Arial, sans-serif" font-size="67" fill="#222" textLength="127.1" lengthAdjust="spacingAndGlyphs">C=O</text>
<text x="1174.0" y="1755.6" font-family="'Liberation Sans', Arial, sans-serif" font-size="65" fill="#222" textLength="299.1" lengthAdjust="spacingAndGlyphs">C-N + N-H</text>
<text x="1173.3" y="2834.6" font-family="'Liberation Sans', Arial, sans-serif" font-size="64" fill="#222" textLength="402.4" lengthAdjust="spacingAndGlyphs">C-H aromatic</text>
<text y="1389.3" font-family="'Liberation Sans', Arial, sans-serif" font-size="56" fill="#3a3a3a" stroke="#3a3a3a" stroke-width="0.60"><tspan x="937.4" textLength="37.5" lengthAdjust="spacingAndGlyphs">w</tspan><tspan x="977.5" textLength="24.9" lengthAdjust="spacingAndGlyphs">a</tspan><tspan x="1006.9" textLength="25.5" lengthAdjust="spacingAndGlyphs">v</tspan><tspan x="1042.2" textLength="28.2" lengthAdjust="spacingAndGlyphs">e</tspan><tspan x="1071.4" textLength="30.1" lengthAdjust="spacingAndGlyphs">n</tspan><tspan x="1103.8" textLength="31.4" lengthAdjust="spacingAndGlyphs">u</tspan><tspan x="1136.1" textLength="47.3" lengthAdjust="spacingAndGlyphs">m</tspan><tspan x="1188.7" textLength="28.9" lengthAdjust="spacingAndGlyphs">b</tspan><tspan x="1220.7" textLength="28.2" lengthAdjust="spacingAndGlyphs">e</tspan><tspan x="1249.1" textLength="21.7" lengthAdjust="spacingAndGlyphs">r</tspan></text>
<text y="3123.0" font-family="'Liberation Sans', Arial, sans-serif" font-size="54" fill="#3a3a3a" stroke="#3a3a3a" stroke-width="0.60"><tspan x="824.5" textLength="38.1" lengthAdjust="spacingAndGlyphs">w</tspan><tspan x="866.2" textLength="26.8" lengthAdjust="spacingAndGlyphs">a</tspan><tspan x="898.5" textLength="19.2" lengthAdjust="spacingAndGlyphs">v</tspan><tspan x="929.1" textLength="28.9" lengthAdjust="spacingAndGlyphs">e</tspan><tspan x="959.2" textLength="28.7" lengthAdjust="spacingAndGlyphs">n</tspan><tspan x="992.2" textLength="28.7" lengthAdjust="spacingAndGlyphs">u</tspan><tspan x="1022.8" textLength="47.4" lengthAdjust="spacingAndGlyphs">m</tspan><tspan x="1076.4" textLength="30.7" lengthAdjust="spacingAndGlyphs">b</tspan><tspan x="1107.5" textLength="30.0" lengthAdjust="spacingAndGlyphs">e</tspan><tspan x="1134.6" textLength="22.7" lengthAdjust="spacingAndGlyphs">r</tspan></text>
<text y="273.5" font-family="'Liberation Sans', Arial, sans-serif" font-size="42" fill="#3a3a3a" stroke="#3a3a3a" stroke-width="0.60"><tspan x="238.6" textLength="22.2" lengthAdjust="spacingAndGlyphs">4</tspan></text>
<text y="702.0" font-family="'Liberation Sans', Arial, sans-serif" font-size="42" fill="#3a3a3a" stroke="#3a3a3a" stroke-width="0.60"><tspan x="237.1" textLength="22.2" lengthAdjust="spacingAndGlyphs">2</tspan></text>
<text y="1130.5" font-family="'Liberation Sans', Arial, sans-serif" font-size="42" fill="#3a3a3a" stroke="#3a3a3a" stroke-width="0.60"><tspan x="237.1" textLength="22.2" lengthAdjust="spacingAndGlyphs">0</tspan></text>
<text y="1297.5" font-family="'Liberation Sans', Arial, sans-serif" font-size="42" fill="#3a3a3a" stroke="#3a3a3a" stroke-width="0.60"><tspan x="247.8" textLength="21.0" lengthAdjust="spacingAndGlyphs">2</tspan><tspan x="275.6" textLength="21.0" lengthAdjust="spacingAndGlyphs">0</tspan><tspan x="303.4" textLength="21.0" lengthAdjust="spacingAndGlyphs">0</tspan><tspan x="331.2" textLength="21.0" lengthAdjust="spacingAndGlyphs">0</tspan></text>
<text y="1297.5" font-family="'Liberation Sans', Arial, sans-serif" font-size="42" fill="#3a3a3a" stroke="#3a3a3a" stroke-width="0.60"><tspan x="451.8" textLength="21.0" lengthAdjust="spacingAndGlyphs">1</tspan><tspan x="478.1" textLength="21.0" lengthAdjust="spacingAndGlyphs">8</tspan><tspan x="504.3" textLength="21.0" lengthAdjust="spacingAndGlyphs">0</tspan><tspan x="530.6" textLength="21.0" lengthAdjust="spacingAndGlyphs">0</tspan></text>
<text y="1297.5" font-family="'Liberation Sans', Arial, sans-serif" font-size="42" fill="#3a3a3a" stroke="#3a3a3a" stroke-width="0.60"><tspan x="650.8" textLength="21.0" lengthAdjust="spacingAndGlyphs">1</tspan><tspan x="677.7" textLength="21.0" lengthAdjust="spacingAndGlyphs">6</tspan><tspan x="704.6" textLength="21.0" lengthAdjust="spacingAndGlyphs">0</tspan><tspan x="731.5" textLength="21.0" lengthAdjust="spacingAndGlyphs">0</tspan></text>
<text y="1297.5" font-family="'Liberation Sans', Arial, sans-serif" font-size="42" fill="#3a3a3a" stroke="#3a3a3a" stroke-width="0.60"><tspan x="855.2" textLength="21.0" lengthAdjust="spacingAndGlyphs">1</tspan><tspan x="880.2" textLength="21.0" lengthAdjust="spacingAndGlyphs">4</tspan><tspan x="905.2" textLength="21.0" lengthAdjust="spacingAndGlyphs">0</tspan><tspan x="930.2" textLength="21.0" lengthAdjust="spacingAndGlyphs">0</tspan></text>
<text y="1297.5" font-family="'Liberation Sans', Arial, sans-serif" font-size="42" fill="#3a3a3a" stroke="#3a3a3a" stroke-width="0.60"><tspan x="1054.5" textLength="21.0" lengthAdjust="spacingAndGlyphs">1</tspan><tspan x="1080.2" textLength="21.0" lengthAdjust="spacingAndGlyphs">2</tspan><tspan x="1106.0" textLength="21.0" lengthAdjust="spacingAndGlyphs">0</tspan><tspan x="1131.7" textLength="21.0" lengthAdjust="spacingAndGlyphs">0</tspan></text>
<text y="1297.5" font-family="'Liberation Sans', Arial, sans-serif" font-size="42" fill="#3a3a3a" stroke="#3a3a3a" stroke-width="0.60"><tspan x="1253.8" textLength="21.0" lengthAdjust="spacingAndGlyphs">1</tspan><tspan x="1280.1" textLength="21.0" lengthAdjust="spacingAndGlyphs">0</tspan><tspan x="1306.4" textLength="21.0" lengthAdjust="spacingAndGlyphs">0</tspan><tspan x="1332.7" textLength="21.0" lengthAdjust="spacingAndGlyphs">0</tspan></text>
<text y="1297.5" font-family="'Liberation Sans', Arial, sans-serif" font-size="42" fill="#3a3a3a" stroke="#3a3a3a" stroke-width="0.60"><tspan x="1465.7" textLength="21.0" lengthAdjust="spacingAndGlyphs">8</tspan><tspan x="1492.5" textLength="21.0" lengthAdjust="spacingAndGlyphs">0</tspan><tspan x="1519.2" textLength="21.0" lengthAdjust="spacingAndGlyphs">0</tspan></text>
<text y="1297.5" font-family="'Liberation Sans', Arial, sans-serif" font-size="42" fill="#3a3a3a" stroke="#3a3a3a" stroke-width="0.60"><tspan x="1664.2" textLength="21.0" lengthAdjust="spacingAndGlyphs">6</tspan><tspan x="1691.4" textLength="21.0" lengthAdjust="spacingAndGlyphs">0</tspan><tspan x="1718.6" textLength="21.0" lengthAdjust="spacingAndGlyphs">0</tspan></text>
<text y="1297.5" font-family="'Liberation Sans', Arial, sans-serif" font-size="42" fill="#3a3a3a" stroke="#3a3a3a" stroke-width="0.60"><tspan x="1867.7" textLength="21.0" lengthAdjust="spacingAndGlyphs">4</tspan><tspan x="1895.4" textLength="21.0" lengthAdjust="spacingAndGlyphs">0</tspan><tspan x="1923.2" textLength="21.0" lengthAdjust="spacingAndGlyphs">0</tspan></text>
<text y="1799.6" font-family="'Liberation Sans', Arial, sans-serif" font-size="39" fill="#333" stroke="#333" stroke-width="0.60"><tspan x="98.0" textLength="21.7" lengthAdjust="spacingAndGlyphs">1</tspan><tspan x="126.0" textLength="21.7" lengthAdjust="spacingAndGlyphs">4</tspan></text>
<text y="1961.4" font-family="'Liberation Sans', Arial, sans-serif" font-size="39" fill="#333" stroke="#333" stroke-width="0.60"><tspan x="98.0" textLength="21.7" lengthAdjust="spacingAndGlyphs">1</tspan><tspan x="127.5" textLength="21.7" lengthAdjust="spacingAndGlyphs">2</tspan></text>
<text y="2123.1" font-family="'Liberation Sans', Arial, sans-serif" font-size="39" fill="#333" stroke="#333" stroke-width="0.60"><tspan x="98.0" textLength="21.7" lengthAdjust="spacingAndGlyphs">1</tspan><tspan x="126.5" textLength="21.7" lengthAdjust="spacingAndGlyphs">0</tspan></text>
<text y="2284.9" font-family="'Liberation Sans', Arial, sans-serif" font-size="39" fill="#333" stroke="#333" stroke-width="0.60"><tspan x="123.5" textLength="21.7" lengthAdjust="spacingAndGlyphs">8</tspan></text>
<text y="2446.7" font-family="'Liberation Sans', Arial, sans-serif" font-size="39" fill="#333" stroke="#333" stroke-width="0.60"><tspan x="123.5" textLength="21.7" lengthAdjust="spacingAndGlyphs">6</tspan></text>
<text y="2608.5" font-family="'Liberation Sans', Arial, sans-serif" font-size="39" fill="#333" stroke="#333" stroke-width="0.60"><tspan x="123.5" textLength="21.7" lengthAdjust="spacingAndGlyphs">4</tspan></text>
<text y="2770.2" font-family="'Liberation Sans', Arial, sans-serif" font-size="39" fill="#333" stroke="#333" stroke-width="0.60"><tspan x="123.5" textLength="21.7" lengthAdjust="spacingAndGlyphs">2</tspan></text>
<text y="2932.0" font-family="'Liberation Sans', Arial, sans-serif" font-size="39" fill="#333" stroke="#333" stroke-width="0.60"><tspan x="123.5" textLength="21.7" lengthAdjust="spacingAndGlyphs">0</tspan></text>
<text y="3032.0" font-family="'Liberation Sans', Arial, sans-serif" font-size="39" fill="#333" stroke="#333" stroke-width="0.60"><tspan x="351.7" textLength="21.7" lengthAdjust="spacingAndGlyphs">3</tspan><tspan x="377.8" textLength="21.7" lengthAdjust="spacingAndGlyphs">0</tspan><tspan x="403.8" textLength="21.7" lengthAdjust="spacingAndGlyphs">0</tspan><tspan x="429.9" textLength="21.7" lengthAdjust="spacingAndGlyphs">0</tspan></text>
<text y="3032.0" font-family="'Liberation Sans', Arial, sans-serif" font-size="39" fill="#333" stroke="#333" stroke-width="0.60"><tspan x="613.8" textLength="21.7" lengthAdjust="spacingAndGlyphs">2</tspan><tspan x="642.3" textLength="21.7" lengthAdjust="spacingAndGlyphs">5</tspan><tspan x="670.7" textLength="21.7" lengthAdjust="spacingAndGlyphs">0</tspan><tspan x="699.2" textLength="21.7" lengthAdjust="spacingAndGlyphs">0</tspan></text>
<text y="3032.0" font-family="'Liberation Sans', Arial, sans-serif" font-size="39" fill="#333" stroke="#333" stroke-width="0.60"><tspan x="882.8" textLength="21.7" lengthAdjust="spacingAndGlyphs">2</tspan><tspan x="911.0" textLength="21.7" lengthAdjust="spacingAndGlyphs">0</tspan><tspan x="939.3" textLength="21.7" lengthAdjust="spacingAndGlyphs">0</tspan><tspan x="967.5" textLength="21.7" lengthAdjust="spacingAndGlyphs">0</tspan></text>
<text y="3032.0" font-family="'Liberation Sans', Arial, sans-serif" font-size="39" fill="#333" stroke="#333" stroke-width="0.60"><tspan x="1154.6" textLength="21.7" lengthAdjust="spacingAndGlyphs">1</tspan><tspan x="1181.2" textLength="21.7" lengthAdjust="spacingAndGlyphs">5</tspan><tspan x="1207.7" textLength="21.7" lengthAdjust="spacingAndGlyphs">0</tspan><tspan x="1234.3" textLength="21.7" lengthAdjust="spacingAndGlyphs">0</tspan></text>
<text y="3032.0" font-family="'Liberation Sans', Arial, sans-serif" font-size="39" fill="#333" stroke="#333" stroke-width="0.60"><tspan x="1419.2" textLength="21.7" lengthAdjust="spacingAndGlyphs">1</tspan><tspan x="1447.2" textLength="21.7" lengthAdjust="spacingAndGlyphs">0</tspan><tspan x="1475.2" textLength="21.7" lengthAdjust="spacingAndGlyphs">0</tspan><tspan x="1503.2" textLength="21.7" lengthAdjust="spacingAndGlyphs">0</tspan></text>
<text y="3032.0" font-family="'Liberation Sans', Arial, sans-serif" font-size="39" fill="#333" stroke="#333" stroke-width="0.60"><tspan x="1701.5" textLength="21.7" lengthAdjust="spacingAndGlyphs">5</tspan><tspan x="1728.9" textLength="21.7" lengthAdjust="spacingAndGlyphs">0</tspan><tspan x="1756.3" textLength="21.7" lengthAdjust="spacingAndGlyphs">0</tspan></text>
</g>
</svg>
</body></html>
